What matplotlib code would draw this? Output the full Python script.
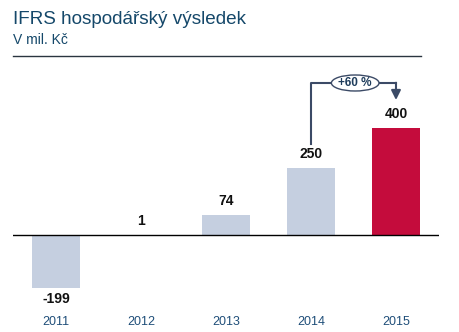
import matplotlib.pyplot as plt
from matplotlib.patches import Ellipse

plt.rcParams['font.family'] = ['Liberation Sans', 'DejaVu Sans']

# data
years = ['2011', '2012', '2013', '2014', '2015']
values = [-199, 1, 74, 250, 400]
colors = ['#c5cfe0', '#c5cfe0', '#c5cfe0', '#c5cfe0', '#c40c3c']
growth_label = '+60 %'

W, H = 459, 332
fig = plt.figure(figsize=(W / 100, H / 100), dpi=100)

# axes: x from px 13 to 439, y from px 60 to 300, baseline at px 235
ax = fig.add_axes([13 / W, 1 - 300 / H, (439 - 13) / W, 240 / H])
px_per_unit = 0.2675
ax.set_xlim(-0.506, 4.506)
ax.set_ylim(-(300 - 235) / px_per_unit, (235 - 60) / px_per_unit)
ax.axis('off')

x = list(range(len(years)))
ax.bar(x, values, width=0.565, color=colors, zorder=2)
ax.axhline(0, color='black', lw=1.0, zorder=3)

for xi, v in zip(x, values):
    if v >= 0:
        ax.text(xi, v + 7 / px_per_unit, str(v), ha='center', va='bottom',
                fontsize=10, fontweight='bold', color='#111111')
    else:
        ax.text(xi, v - 4 / px_per_unit, str(v), ha='center', va='top',
                fontsize=10, fontweight='bold', color='#111111')

for xi, yr in zip(x, years):
    fig.text((13 + (xi + 0.506) * 85.1) / W, 1 - 322 / H, yr, ha='center',
             va='center', fontsize=9, color='#1f4e79')

# growth arrow from 2014 to 2015
lc = '#3b4a66'
y_top = (235 - 83) / px_per_unit
y_start = values[3] + 24 / px_per_unit
y_end = values[4] + 28 / px_per_unit
ax.plot([3, 3, 4], [y_start, y_top, y_top], color=lc, lw=1.5, zorder=4)
ax.annotate('', xy=(4, y_end), xytext=(4, y_top + 1),
            arrowprops=dict(arrowstyle='-|>', color=lc, lw=1.5,
                            mutation_scale=14, shrinkA=0, shrinkB=0), zorder=4)
ell = Ellipse((3.52, y_top), 0.56, 16 / px_per_unit, facecolor='white',
              edgecolor=lc, lw=1.0, zorder=5)
ax.add_patch(ell)
ax.text(3.52, y_top, growth_label, ha='center', va='center', fontsize=8.5,
        fontweight='bold', color='#1f3d5c', zorder=6)

fig.text(13 / W, 1 - 20 / H, 'IFRS hospodářský výsledek', ha='left',
         va='center', fontsize=13.6, color='#15486a')
fig.text(13 / W, 1 - 40 / H, 'V mil. Kč', ha='left', va='center',
         fontsize=10, color='#15486a')
fig.add_artist(plt.Line2D([13 / W, 421 / W], [1 - 56 / H, 1 - 56 / H],
                          color='#2a3540', lw=1.0))

fig.savefig('out.png', dpi=100)
